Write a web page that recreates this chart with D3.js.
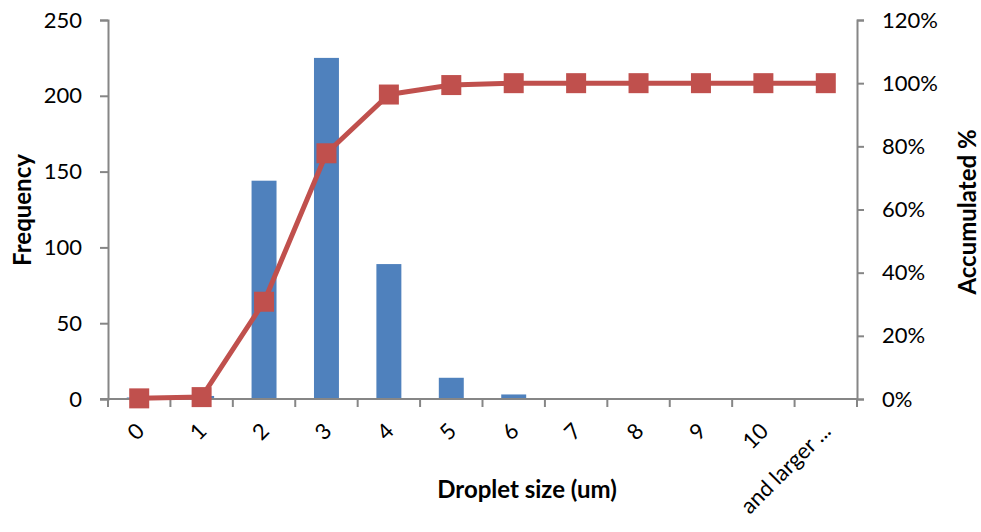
<!DOCTYPE html>
<html>
<head>
<meta charset="utf-8">
<script src="https://cdn.jsdelivr.net/npm/d3@7"></script>
<style>
  body { margin: 0; background: #fff; }
  text { font-family: Lato, "Open Sans", sans-serif; fill: #000; }
</style>
</head>
<body>
<svg id="chart"></svg>
<script>
// data
var categories = ["0", "1", "2", "3", "4", "5", "6", "7", "8", "9", "10", "and larger ..."];
var frequency = [1, 2, 144, 225, 89, 14, 3, 0, 0, 0, 0, 0];
var accumulated = [0.2, 0.6, 30.8, 77.8, 96.4, 99.4, 100, 100, 100, 100, 100, 100];
var freqTicks = [0, 50, 100, 150, 200, 250];
var pctTicks = [0, 20, 40, 60, 80, 100, 120];

var width = 981, height = 532,
    plotLeft = 108, plotRight = 857, plotTop = 20, plotBottom = 399,
    axisColor = "#868686";

var svg = d3.select("#chart").attr("width", width).attr("height", height);

var x = d3.scaleBand().domain(categories).range([plotLeft, plotRight]).padding(0);
var y = d3.scaleLinear().domain([0, 250]).range([plotBottom, plotTop]);
var y2 = d3.scaleLinear().domain([0, 120]).range([plotBottom, plotTop]);

// bars
var barW = x.bandwidth() * 0.4;
svg.append("g").selectAll("rect")
    .data(frequency)
  .enter().append("rect")
    .attr("x", function(d, i) { return x(categories[i]) + (x.bandwidth() - barW) / 2; })
    .attr("y", function(d) { return y(d); })
    .attr("width", barW)
    .attr("height", function(d) { return plotBottom - y(d); })
    .attr("fill", "#4F81BD");

// axes
var leftAxis = svg.append("g")
    .attr("transform", "translate(" + plotLeft + ",0)")
    .call(d3.axisLeft(y).tickValues(freqTicks).tickSize(8).tickPadding(18));

var rightAxis = svg.append("g")
    .attr("transform", "translate(" + plotRight + ",0)")
    .call(d3.axisRight(y2).tickValues(pctTicks).tickSize(7).tickPadding(18)
      .tickFormat(function(d) { return d + "%"; }));

// x axis: ticks at the category boundaries
var bottomAxis = svg.append("g").attr("transform", "translate(0," + plotBottom + ")");
bottomAxis.append("line")
    .attr("x1", plotLeft - 8).attr("x2", plotRight)
    .attr("stroke", axisColor).attr("stroke-width", 2);
bottomAxis.selectAll(".tk")
    .data(categories.concat([null]))
  .enter().append("line")
    .attr("class", "tk")
    .attr("x1", function(d, i) { return plotLeft + i * x.step(); })
    .attr("x2", function(d, i) { return plotLeft + i * x.step(); })
    .attr("y1", 0).attr("y2", 8)
    .attr("stroke", axisColor).attr("stroke-width", 2);
bottomAxis.selectAll(".lbl")
    .data(categories)
  .enter().append("text")
    .attr("class", "lbl")
    .attr("transform", function(d) {
      return "translate(" + (x(d) + x.bandwidth() / 2 + 1) + ",28) rotate(-45)";
    })
    .attr("text-anchor", "end")
    .attr("dy", "0.35em")
    .style("font-size", "22px")
    .text(function(d) { return d; });

[leftAxis, rightAxis].forEach(function(a) {
  a.select(".domain").attr("stroke", axisColor).attr("stroke-width", 2);
  a.selectAll(".tick line").attr("stroke", axisColor).attr("stroke-width", 2);
  a.selectAll(".tick text").style("font-size", "22px").attr("fill", "#000");
});
leftAxis.selectAll(".tick text").attr("x", -26);

// accumulated line
var line = d3.line()
    .x(function(d, i) { return x(categories[i]) + x.bandwidth() / 2; })
    .y(function(d) { return y2(d); });

svg.append("path")
    .datum(accumulated)
    .attr("d", line)
    .attr("fill", "none")
    .attr("stroke", "#C0504D")
    .attr("stroke-width", 5)
    .attr("stroke-linejoin", "round");

svg.append("g").selectAll("rect")
    .data(accumulated)
  .enter().append("rect")
    .attr("x", function(d, i) { return x(categories[i]) + x.bandwidth() / 2 - 10; })
    .attr("y", function(d) { return y2(d) - 10; })
    .attr("width", 20).attr("height", 20)
    .attr("fill", "#C0504D");

// titles
svg.append("text")
    .attr("transform", "translate(31,210) rotate(-90)")
    .attr("text-anchor", "middle")
    .style("font-size", "24px").style("font-weight", "bold")
    .text("Frequency");

svg.append("text")
    .attr("transform", "translate(976,212) rotate(-90)")
    .attr("text-anchor", "middle")
    .style("font-size", "24px").style("font-weight", "bold")
    .text("Accumulated %");

svg.append("text")
    .attr("x", 527).attr("y", 498)
    .attr("text-anchor", "middle")
    .style("font-size", "24px").style("font-weight", "bold")
    .text("Droplet size (um)");
</script>
</body>
</html>
